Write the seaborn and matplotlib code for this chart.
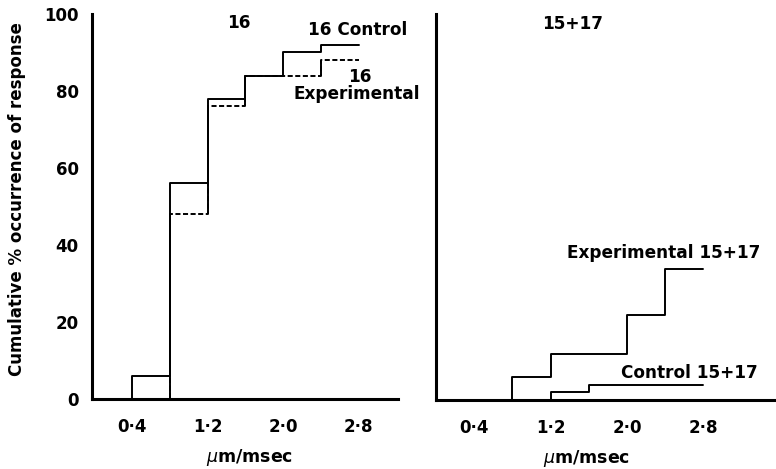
import matplotlib
matplotlib.use("Agg")
import matplotlib.pyplot as plt
import seaborn as sns
import pandas as pd

# Conduction velocity class boundaries (µm/msec)
velocity = [0.0, 0.4, 0.8, 1.2, 1.6, 2.0, 2.4, 2.8]

# Segment 16: cumulative % occurrence of response
control_16 = [0, 6, 56, 78, 84, 90, 92, 92]
experimental_16 = [0, 0, 48, 76, 84, 84, 88, 88]

# Segments 15 + 17
control_15_17 = [0, 0, 0, 2, 4, 4, 4, 4]
experimental_15_17 = [0, 0, 6, 12, 12, 22, 34, 34]

x_ticks = [0.4, 1.2, 2.0, 2.8]
x_tick_labels = ["0·4", "1·2", "2·0", "2·8"]
y_ticks = [0, 20, 40, 60, 80, 100]

sns.set_theme(style="white")
plt.rcParams["font.family"] = ["DejaVu Sans"]
plt.rcParams["mathtext.fontset"] = "dejavusans"
for key in ("text.color", "axes.labelcolor", "xtick.color", "ytick.color"):
    plt.rcParams[key] = "black"

fig = plt.figure(figsize=(7.76, 4.69), dpi=100)
ax_l = fig.add_axes([0.1182, 0.1493, 0.3951, 0.8209])
ax_r = fig.add_axes([0.5619, 0.1471, 0.4381, 0.8231])

LW = 1.4
line_kw = dict(color="black", linewidth=LW, drawstyle="steps-post", legend=False)

df16 = pd.DataFrame({"v": velocity, "c": control_16, "e": experimental_16})
sns.lineplot(data=df16, x="v", y="c", ax=ax_l, **line_kw)
exp_line = sns.lineplot(data=df16, x="v", y="e", ax=ax_l, **line_kw).lines[-1]
exp_line.set_dashes((2.6, 1.3))
# risers of the experimental curve are drawn as solid strokes
for i in range(1, len(velocity)):
    if experimental_16[i] != experimental_16[i - 1]:
        ax_l.vlines(velocity[i], experimental_16[i - 1], experimental_16[i],
                    color="black", linewidth=LW)

df1517 = pd.DataFrame({"v": velocity, "c": control_15_17, "e": experimental_15_17})
sns.lineplot(data=df1517, x="v", y="c", ax=ax_r, **line_kw)
sns.lineplot(data=df1517, x="v", y="e", ax=ax_r, **line_kw)

ax_l.set_xlim(-0.03, 3.22)
ax_r.set_xlim(0.0, 3.56)

for ax in (ax_l, ax_r):
    ax.set_ylim(0, 100)
    for side in ("top", "right"):
        ax.spines[side].set_visible(False)
    for side in ("left", "bottom"):
        ax.spines[side].set_color("black")
        ax.spines[side].set_linewidth(2.2)
    ax.set_xticks(x_ticks)
    ax.set_xticklabels(x_tick_labels, fontsize=12, fontweight="bold")
    ax.set_yticks(y_ticks)
    ax.tick_params(axis="both", direction="out", length=8, width=1.8,
                   color="black", labelcolor="black")
    ax.tick_params(axis="x", pad=6)
    ax.tick_params(axis="y", pad=1.5)
    ax.set_xlabel(r"$\mu$m/msec", fontsize=12.5, fontweight="bold", color="black")
    ax.patch.set_alpha(0)

ax_l.set_yticklabels([str(v) for v in y_ticks], fontsize=12, fontweight="bold")
ax_r.set_yticklabels([])
ax_r.set_ylabel("")

ax_l.set_ylabel("Cumulative % occurrence of response", fontsize=12,
                fontweight="bold", color="black")
ax_l.yaxis.set_label_coords(-0.215, 0.52)
ax_l.xaxis.set_label_coords(0.516, -0.125)
ax_r.xaxis.set_label_coords(0.444, -0.125)

txt = dict(fontsize=12.2, fontweight="bold", color="black", va="baseline", ha="left")
ax_l.text(1.40, 96.4, "16", **txt)
ax_l.text(2.266, 94.5, "16 Control", **txt)
ax_l.text(2.69, 82.3, "16", **txt)
ax_l.text(2.107, 77.9, "Experimental", clip_on=False, **txt)

ax_r.text(1.113, 96.1, "15+17", **txt)
ax_r.text(1.375, 36.9, "Experimental 15+17", **txt)
ax_r.text(1.94, 5.8, "Control 15+17", **txt)

fig.savefig("out.png", dpi=100)
